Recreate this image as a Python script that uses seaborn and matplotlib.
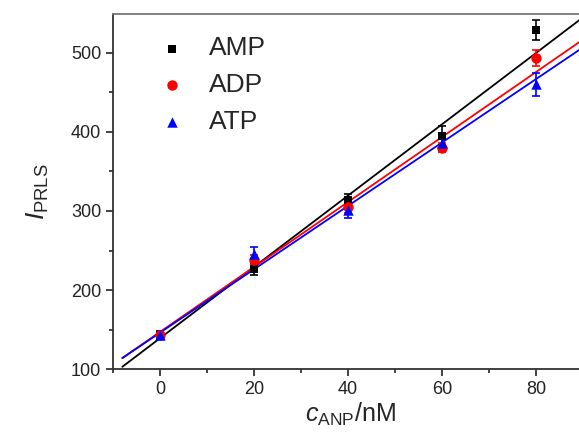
import numpy as np
import pandas as pd
import seaborn as sns
import matplotlib.pyplot as plt
from matplotlib.ticker import MultipleLocator

# concentrations and PRLS intensities
conc = [0, 20, 40, 60, 80]
amp = [143, 226, 314, 395, 529]
adp = [143, 238, 305, 380, 493]
atp = [143, 246, 301, 386, 460]
amp_err = [5, 7, 8, 12, 13]
adp_err = [5, 6, 7, 6, 10]
atp_err = [5, 8, 10, 8, 14]

# linear fits as drawn in the original (slope, intercept)
fit_slope = [4.51, 4.11, 4.01]
fit_icpt = [139, 146.9, 146]
fit_range = [-8, 92]

names = ["AMP", "ADP", "ATP"]
values = [amp, adp, atp]
errors = [amp_err, adp_err, atp_err]
colors = ["black", "red", "blue"]
markers = ["s", "o", "^"]
msizes = [6, 7.5, 7.5]

sns.set_style("ticks")
plt.rcParams['font.family'] = ['Liberation Sans', 'DejaVu Sans']
plt.rcParams['mathtext.fontset'] = 'custom'
plt.rcParams['mathtext.rm'] = 'Liberation Sans'
plt.rcParams['mathtext.it'] = 'Liberation Sans:italic'

fig = plt.figure(figsize=(5.79, 4.41), dpi=100)
ax = fig.add_axes([0.195, 0.163, 0.82, 0.805])

for i in range(3):
    xs = np.array(fit_range)
    fit = pd.DataFrame({"c": xs, "I": fit_icpt[i] + fit_slope[i] * xs})
    sns.lineplot(data=fit, x="c", y="I", ax=ax, color=colors[i], lw=1.3)
    df = pd.DataFrame({"c": conc, "I": values[i]})
    ax.errorbar(conc, values[i], yerr=errors[i], fmt="none", ecolor=colors[i],
                elinewidth=1.2, capsize=3, capthick=1.2, zorder=3)
    sns.scatterplot(data=df, x="c", y="I", ax=ax, color=colors[i], marker=markers[i],
                    s=msizes[i] ** 2, edgecolor=colors[i], linewidth=0,
                    label=names[i], zorder=4)

ax.set_xlim(-10, 91)
ax.set_ylim(100, 549)
ax.xaxis.set_major_locator(MultipleLocator(20))
ax.xaxis.set_minor_locator(MultipleLocator(10))
ax.yaxis.set_major_locator(MultipleLocator(100))
ax.yaxis.set_minor_locator(MultipleLocator(50))
ax.tick_params(which="major", direction="out", length=5, width=1.2, labelsize=13, colors="#222222")
ax.tick_params(which="minor", direction="out", length=3, width=1.2)
for side in ["left", "bottom", "top"]:
    ax.spines[side].set_linewidth(1.3)
    ax.spines[side].set_color("#333333")
ax.spines["top"].set_color("#777777")
ax.spines["right"].set_visible(False)

ax.set_xlabel(r"$c_{\rm ANP}$/nM", fontsize=18, labelpad=2)
ax.set_ylabel(r"$I_{\rm PRLS}$", fontsize=19, labelpad=14)

ax.legend(loc="upper left", bbox_to_anchor=(0.069, 0.937), frameon=False,
          borderaxespad=0, borderpad=0, fontsize=19, handlelength=2,
          handletextpad=0.4, labelspacing=0.48, markerscale=1.0)

fig.savefig("out.png", dpi=100)
